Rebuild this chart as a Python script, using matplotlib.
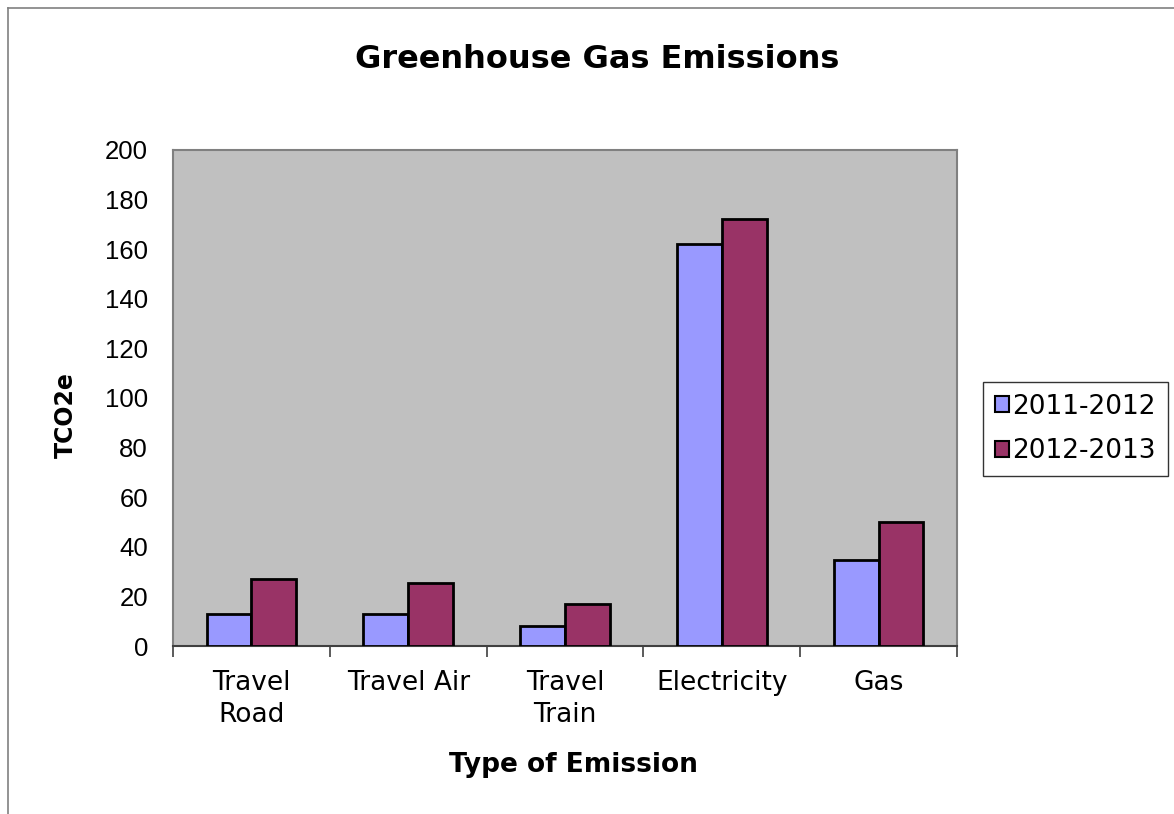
import numpy as np
import matplotlib.pyplot as plt
from matplotlib.patches import Patch

# emissions by type, tonnes CO2 equivalent
categories = ["Travel\nRoad", "Travel Air", "Travel\nTrain", "Electricity", "Gas"]
series_names = ["2011-2012", "2012-2013"]
values_2011 = [13, 13, 8, 162, 34.5]
values_2012 = [27, 25.5, 17, 172, 50]

blue = "#9999FF"
plum = "#993366"

plt.rcParams['font.family'] = ['DejaVu Sans']

fig = plt.figure(figsize=(11.74, 8.14), dpi=100)
ax = fig.add_axes([173 / 1174, 1 - 646 / 814, (957 - 173) / 1174, (646 - 150) / 814])
ax.set_facecolor("#C0C0C0")

x = np.arange(len(categories))
w = 1 / 3.5
ax.bar(x - w / 2, values_2011, w, color=blue, edgecolor="black", linewidth=2, zorder=3)
ax.bar(x + w / 2, values_2012, w, color=plum, edgecolor="black", linewidth=2, zorder=3)

ax.set_xlim(-0.5, len(categories) - 0.5)
ax.set_ylim(0, 200)
ax.set_yticks(np.arange(0, 201, 20))
ax.tick_params(axis="y", length=0, pad=18, labelsize=18.5)
for lbl in ax.get_yticklabels():
    lbl.set_family("Liberation Sans")

ax.set_xticks(x)
ax.set_xticklabels(categories, fontsize=19, linespacing=1.3)
ax.tick_params(axis="x", which="major", length=0, pad=17)
ax.set_xticks(np.arange(-0.5, len(categories), 1), minor=True)
ax.tick_params(axis="x", which="minor", length=8, width=1.2, color="#404040")

for side in ["top", "right", "left"]:
    ax.spines[side].set_color("#808080")
    ax.spines[side].set_linewidth(1.5)
ax.spines["bottom"].set_color("#404040")
ax.spines["bottom"].set_linewidth(1.5)

ax.set_xlabel("Type of Emission", fontsize=19, fontweight="bold")
ax.xaxis.set_label_coords(0.511, -0.24)
ax.xaxis.label.set_va("center")
ax.set_ylabel("TCO2e", fontsize=17, fontweight="bold")
ax.yaxis.set_label_coords(-0.137, 0.466)
ax.yaxis.label.set_va("center")
fig.text(597 / 1174, 1 - 60 / 814, "Greenhouse Gas Emissions", ha="center", va="center",
         fontsize=23, fontweight="bold")

handles = [Patch(facecolor=blue, edgecolor="black", linewidth=1.5),
           Patch(facecolor=plum, edgecolor="black", linewidth=1.5)]
leg = fig.legend(handles, series_names, loc="center left",
                 bbox_to_anchor=(983 / 1174, 1 - 429 / 814), fontsize=19,
                 frameon=True, fancybox=False, handlelength=0.55, handleheight=0.55,
                 handletextpad=0.12, borderpad=0.45, labelspacing=0.7, borderaxespad=0)
leg.get_frame().set_edgecolor("black")
leg.get_frame().set_linewidth(1)

# outer chart border
fig.add_artist(plt.Line2D([8 / 1174, 8 / 1174], [0, 1 - 8 / 814], color="#808080", lw=1.2))
fig.add_artist(plt.Line2D([8 / 1174, 1], [1 - 8 / 814, 1 - 8 / 814], color="#808080", lw=1.2))

fig.savefig("out.png", dpi=100)
